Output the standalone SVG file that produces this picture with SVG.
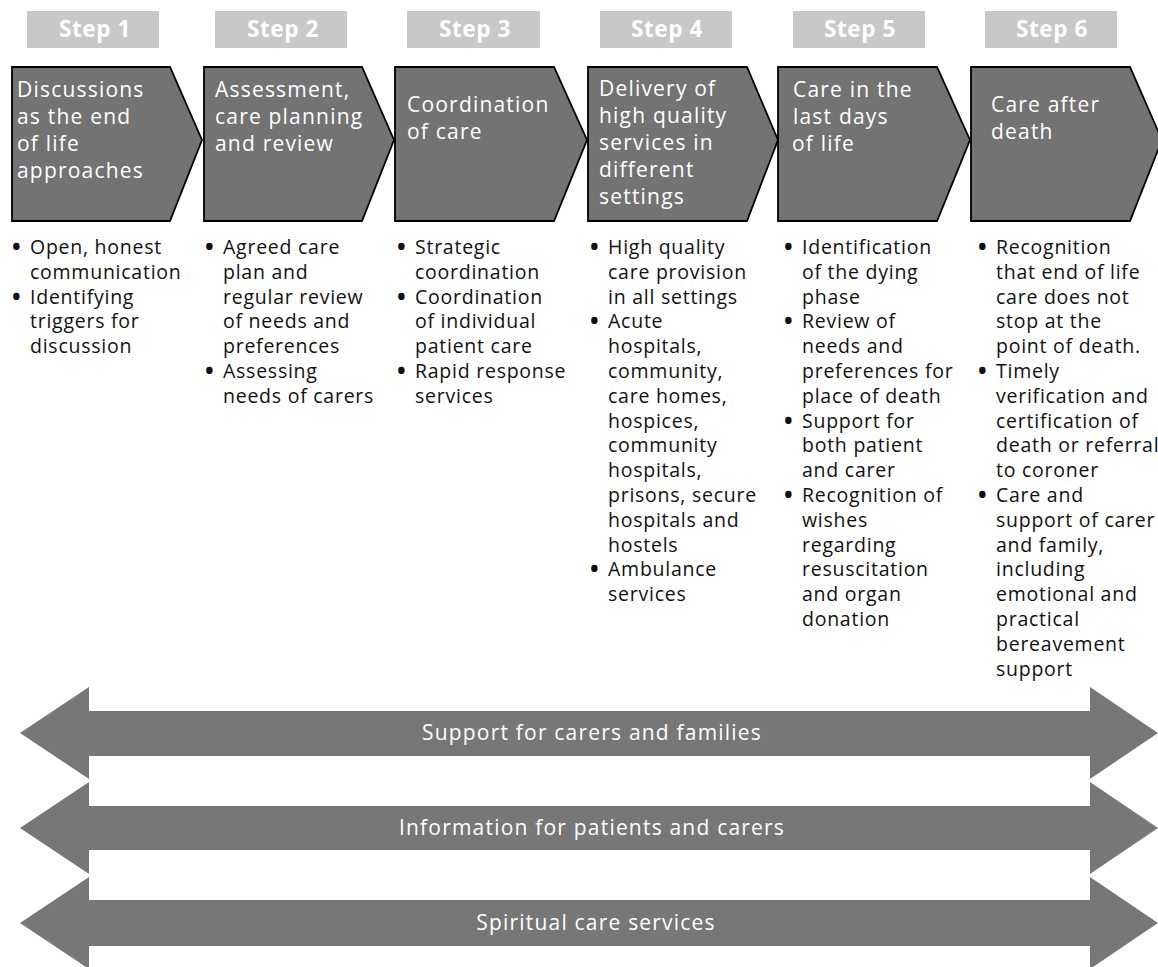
<svg xmlns="http://www.w3.org/2000/svg" width="1158" height="967" viewBox="0 0 1158 967">
<style>
.stepbox{fill:#c8c8c8}
.steptxt{font-family:"Open Sans","Liberation Sans",sans-serif;font-weight:bold;font-size:22.5px;fill:#ffffff;letter-spacing:0.6px;text-anchor:middle}
.chev{fill:#737373;stroke:#000;stroke-width:1.8;stroke-linejoin:miter}
.chevtxt{font-family:"Open Sans","Liberation Sans",sans-serif;font-size:21px;fill:#ffffff;letter-spacing:1.2px}
.bul{font-family:"Open Sans","Liberation Sans",sans-serif;font-size:19.5px;fill:#111;letter-spacing:0.75px}
.dot{font-size:23px;font-weight:bold}
.band{fill:#777777}
.bandtxt{font-family:"Open Sans","Liberation Sans",sans-serif;font-size:21px;fill:#ffffff;letter-spacing:1.2px;text-anchor:middle}
</style>

<g id="step1">
<rect class="stepbox" x="27" y="11" width="132" height="37"/>
<text class="steptxt" x="95" y="37">Step 1</text>
<polygon class="chev" points="12,67 170,67 202,140 170,221 12,221"/>
<text class="chevtxt"><tspan x="17" y="97">Discussions</tspan><tspan x="17" y="124">as the end</tspan><tspan x="17" y="151">of life</tspan><tspan x="17" y="178">approaches</tspan></text>
<text class="bul"><tspan class="dot" x="12" y="255">•</tspan><tspan x="30" y="254">Open, honest</tspan><tspan x="30" y="278.8">communication</tspan><tspan class="dot" x="12" y="304.6">•</tspan><tspan x="30" y="303.6">Identifying</tspan><tspan x="30" y="328.4">triggers for</tspan><tspan x="30" y="353.2">discussion</tspan></text>
</g>

<g id="step2">
<rect class="stepbox" x="215" y="11" width="132" height="37"/>
<text class="steptxt" x="283" y="37">Step 2</text>
<polygon class="chev" points="204,67 362,67 394,140 362,221 204,221"/>
<text class="chevtxt"><tspan x="215" y="97">Assessment,</tspan><tspan x="215" y="124">care planning</tspan><tspan x="215" y="151">and review</tspan></text>
<text class="bul"><tspan class="dot" x="205" y="255">•</tspan><tspan x="223" y="254">Agreed care</tspan><tspan x="223" y="278.8">plan and</tspan><tspan x="223" y="303.6">regular review</tspan><tspan x="223" y="328.4">of needs and</tspan><tspan x="223" y="353.2">preferences</tspan><tspan class="dot" x="205" y="379">•</tspan><tspan x="223" y="378">Assessing</tspan><tspan x="223" y="402.8">needs of carers</tspan></text>
</g>

<g id="step3">
<rect class="stepbox" x="407" y="11" width="133" height="37"/>
<text class="steptxt" x="475" y="37">Step 3</text>
<polygon class="chev" points="395,67 554,67 587,140 554,221 395,221"/>
<text class="chevtxt"><tspan x="407" y="112">Coordination</tspan><tspan x="407" y="139">of care</tspan></text>
<text class="bul"><tspan class="dot" x="397" y="255">•</tspan><tspan x="415" y="254">Strategic</tspan><tspan x="415" y="278.8">coordination</tspan><tspan class="dot" x="397" y="304.6">•</tspan><tspan x="415" y="303.6">Coordination</tspan><tspan x="415" y="328.4">of individual</tspan><tspan x="415" y="353.2">patient care</tspan><tspan class="dot" x="397" y="379">•</tspan><tspan x="415" y="378">Rapid response</tspan><tspan x="415" y="402.8">services</tspan></text>
</g>

<g id="step4">
<rect class="stepbox" x="600" y="11" width="132" height="37"/>
<text class="steptxt" x="667" y="37">Step 4</text>
<polygon class="chev" points="588,67 747,67 778,140 747,221 588,221"/>
<text class="chevtxt"><tspan x="599" y="96">Delivery of</tspan><tspan x="599" y="123">high quality</tspan><tspan x="599" y="150">services in</tspan><tspan x="599" y="177">different</tspan><tspan x="599" y="204">settings</tspan></text>
<text class="bul"><tspan class="dot" x="590" y="255">•</tspan><tspan x="608" y="254">High quality</tspan><tspan x="608" y="278.8">care provision</tspan><tspan x="608" y="303.6">in all settings</tspan><tspan class="dot" x="590" y="329.4">•</tspan><tspan x="608" y="328.4">Acute</tspan><tspan x="608" y="353.2">hospitals,</tspan><tspan x="608" y="378">community,</tspan><tspan x="608" y="402.8">care homes,</tspan><tspan x="608" y="427.6">hospices,</tspan><tspan x="608" y="452.4">community</tspan><tspan x="608" y="477.2">hospitals,</tspan><tspan x="608" y="502">prisons, secure</tspan><tspan x="608" y="526.8">hospitals and</tspan><tspan x="608" y="551.6">hostels</tspan><tspan class="dot" x="590" y="577.4">•</tspan><tspan x="608" y="576.4">Ambulance</tspan><tspan x="608" y="601.2">services</tspan></text>
</g>

<g id="step5">
<rect class="stepbox" x="793" y="11" width="132" height="37"/>
<text class="steptxt" x="860" y="37">Step 5</text>
<polygon class="chev" points="778,67 937,67 970,140 937,221 778,221"/>
<text class="chevtxt"><tspan x="793" y="97">Care in the</tspan><tspan x="793" y="124">last days</tspan><tspan x="792" y="151">of life</tspan></text>
<text class="bul"><tspan class="dot" x="784" y="255">•</tspan><tspan x="802" y="254">Identification</tspan><tspan x="802" y="278.8">of the dying</tspan><tspan x="802" y="303.6">phase</tspan><tspan class="dot" x="784" y="329.4">•</tspan><tspan x="802" y="328.4">Review of</tspan><tspan x="802" y="353.2">needs and</tspan><tspan x="802" y="378">preferences for</tspan><tspan x="802" y="402.8">place of death</tspan><tspan class="dot" x="784" y="428.6">•</tspan><tspan x="802" y="427.6">Support for</tspan><tspan x="802" y="452.4">both patient</tspan><tspan x="802" y="477.2">and carer</tspan><tspan class="dot" x="784" y="503">•</tspan><tspan x="802" y="502">Recognition of</tspan><tspan x="802" y="526.8">wishes</tspan><tspan x="802" y="551.6">regarding</tspan><tspan x="802" y="576.4">resuscitation</tspan><tspan x="802" y="601.2">and organ</tspan><tspan x="802" y="626">donation</tspan></text>
</g>

<g id="step6">
<rect class="stepbox" x="985" y="11" width="132" height="37"/>
<text class="steptxt" x="1052" y="37">Step 6</text>
<polygon class="chev" points="971,67 1130,67 1162,140 1130,221 971,221"/>
<text class="chevtxt"><tspan x="991" y="112">Care after</tspan><tspan x="991" y="139">death</tspan></text>
<text class="bul"><tspan class="dot" x="978" y="255">•</tspan><tspan x="996" y="254">Recognition</tspan><tspan x="996" y="278.8">that end of life</tspan><tspan x="996" y="303.6">care does not</tspan><tspan x="996" y="328.4">stop at the</tspan><tspan x="996" y="353.2">point of death.</tspan><tspan class="dot" x="978" y="379">•</tspan><tspan x="996" y="378">Timely</tspan><tspan x="996" y="402.8">verification and</tspan><tspan x="996" y="427.6">certification of</tspan><tspan x="996" y="452.4">death or referral</tspan><tspan x="996" y="477.2">to coroner</tspan><tspan class="dot" x="978" y="503">•</tspan><tspan x="996" y="502">Care and</tspan><tspan x="996" y="526.8">support of carer</tspan><tspan x="996" y="551.6">and family,</tspan><tspan x="996" y="576.4">including</tspan><tspan x="996" y="601.2">emotional and</tspan><tspan x="996" y="626">practical</tspan><tspan x="996" y="650.8">bereavement</tspan><tspan x="996" y="675.6">support</tspan></text>
</g>

<g id="connectors">
<g id="band1">
<polygon class="band" points="20,733 89,687 89,711 1090,711 1090,687 1158,733 1090,779 1090,756 89,756 89,779"/>
<text class="bandtxt" x="592" y="740">Support for carers and families</text>
</g>
<g id="band2">
<polygon class="band" points="20,828 89,782 89,806 1090,806 1090,782 1158,828 1090,874 1090,850 89,850 89,874"/>
<text class="bandtxt" x="592" y="835">Information for patients and carers</text>
</g>
<g id="band3">
<polygon class="band" points="20,923 89,877 89,900 1090,900 1090,877 1158,923 1090,969 1090,946 89,946 89,969"/>
<text class="bandtxt" x="596" y="930">Spiritual care services</text>
</g>
</g>
</svg>
